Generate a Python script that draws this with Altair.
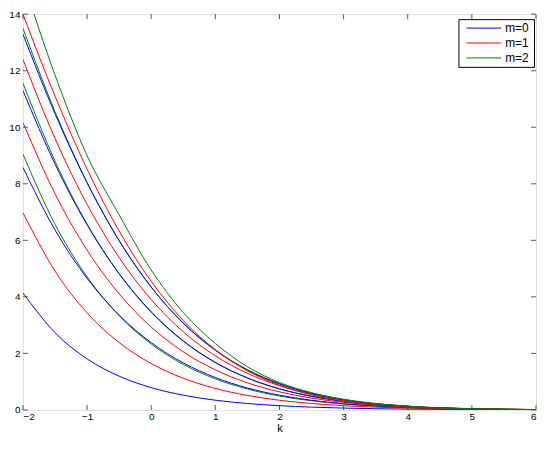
import altair as alt
import pandas as pd

k_vals = [-2, -1.5, -1, -0.5, 0, 0.5, 1, 1.5, 2, 2.5, 3, 4, 5, 6]

# m = 0 (blue)
b1 = [4.14, 2.735, 1.807, 1.194, 0.789, 0.521, 0.344, 0.228, 0.150, 0.099, 0.066, 0.029, 0.013, 0.006]
b2 = [8.58, 6.369, 4.657, 3.355, 2.381, 1.665, 1.146, 0.777, 0.520, 0.342, 0.222, 0.089, 0.034, 0.012]
b3 = [11.3, 8.701, 6.553, 4.824, 3.473, 2.444, 1.682, 1.131, 0.744, 0.479, 0.301, 0.111, 0.038, 0.012]
b4 = [13.3, 10.48, 8.035, 5.993, 4.348, 3.069, 2.108, 1.408, 0.915, 0.579, 0.356, 0.124, 0.039, 0.011]
# m = 1 (red)
r1 = [6.98, 4.915, 3.436, 2.383, 1.640, 1.121, 0.760, 0.512, 0.342, 0.227, 0.149, 0.063, 0.026, 0.010]
r2 = [10.17, 7.650, 5.655, 4.107, 2.931, 2.055, 1.417, 0.959, 0.639, 0.418, 0.268, 0.105, 0.038, 0.013]
r3 = [12.4, 9.606, 7.276, 5.389, 3.904, 2.763, 1.913, 1.296, 0.857, 0.554, 0.351, 0.131, 0.045, 0.014]
r4 = [14.0, 11.10, 8.520, 6.328, 4.547, 3.164, 2.129, 1.387, 0.874, 0.533, 0.315, 0.099, 0.028, 0.007]
# m = 2 (green)
g1 = [9.05, 6.569, 4.711, 3.335, 2.332, 1.610, 1.099, 0.739, 0.492, 0.323, 0.210, 0.085, 0.033, 0.012]
g2 = [11.56, 8.807, 6.576, 4.814, 3.454, 2.429, 1.675, 1.132, 0.749, 0.487, 0.310, 0.118, 0.042, 0.014]
g3 = [13.5, 10.556, 8.050, 5.987, 4.343, 3.073, 2.121, 1.427, 0.937, 0.600, 0.374, 0.135, 0.044, 0.013]
g4 = [15.2, 11.85, 9.00, 6.90, 4.95, 3.45, 2.35, 1.53, 0.970, 0.610, 0.370, 0.127, 0.040, 0.011]

series_labels = ["m=0", "m=1", "m=2"]
series_colors = ["#0000ff", "#ff0000", "#008000"]
x_ticks = [-2, -1, 0, 1, 2, 3, 4, 5, 6]
y_ticks = [0, 2, 4, 6, 8, 10, 12, 14]

curves = [
    ("b1", "m=0", b1), ("r1", "m=1", r1), ("g1", "m=2", g1),
    ("b2", "m=0", b2), ("r2", "m=1", r2), ("g2", "m=2", g2),
    ("b3", "m=0", b3), ("r3", "m=1", r3), ("g3", "m=2", g3),
    ("b4", "m=0", b4), ("r4", "m=1", r4), ("g4", "m=2", g4),
]
rows = []
for cid, m, vals in curves:
    for k, v in zip(k_vals, vals):
        rows.append({"curve": cid, "m": m, "k": k, "v": v})
df = pd.DataFrame(rows)

W, H = 516, 398
FONT = "Liberation Sans"

xscale = alt.Scale(domain=[-2, 6], nice=False, zero=False)
yscale = alt.Scale(domain=[0, 14], nice=False, zero=False)

lines = alt.Chart(df).mark_line(strokeWidth=1, clip=True, interpolate="monotone").encode(
    x=alt.X("k:Q", scale=xscale,
            axis=alt.Axis(values=x_ticks, ticks=False, domain=False, grid=False,
                          labelPadding=2, titlePadding=1, format="d",
                          title="k", titleFontWeight="normal")),
    y=alt.Y("v:Q", scale=yscale, title=None,
            axis=alt.Axis(values=y_ticks, ticks=False, domain=False, grid=False,
                          labelPadding=3, format="d")),
    color=alt.Color("m:N", scale=alt.Scale(domain=series_labels, range=series_colors),
                    legend=None),
    detail="curve:N",
)

xt = pd.DataFrame({"k": x_ticks})
yt = pd.DataFrame({"v": y_ticks})
tick_col = "#555555"
xb = alt.Chart(xt).mark_rule(color=tick_col, strokeWidth=1).encode(
    x=alt.X("k:Q", scale=xscale), y=alt.value(H), y2=alt.value(H - 5))
xtop = alt.Chart(xt).mark_rule(color=tick_col, strokeWidth=1).encode(
    x=alt.X("k:Q", scale=xscale), y=alt.value(0), y2=alt.value(5))
yl = alt.Chart(yt).mark_rule(color=tick_col, strokeWidth=1).encode(
    y=alt.Y("v:Q", scale=yscale), x=alt.value(0), x2=alt.value(5))
yr = alt.Chart(yt).mark_rule(color=tick_col, strokeWidth=1).encode(
    y=alt.Y("v:Q", scale=yscale), x=alt.value(W), x2=alt.value(W - 5))

# legend box drawn by hand (MATLAB style)
leg_df = pd.DataFrame({"one": [1]})
legend_parts = [
    alt.Chart(leg_df).mark_rect(fill="white", stroke="black", strokeWidth=1).encode(
        x=alt.value(W - 77.5), x2=alt.value(W - 1.5), y=alt.value(5.5), y2=alt.value(53.5))
]
for i, (lab, col) in enumerate(zip(series_labels, series_colors)):
    yy = 14 + 15 * i
    legend_parts.append(
        alt.Chart(leg_df).mark_rule(color=col, strokeWidth=1).encode(
            x=alt.value(W - 70), x2=alt.value(W - 35), y=alt.value(yy)))
    legend_parts.append(
        alt.Chart(leg_df).mark_text(text=lab, align="left", baseline="middle",
                                    font=FONT, fontSize=12, color="black").encode(
            x=alt.value(W - 31), y=alt.value(yy)))

chart = alt.layer(xb, xtop, yl, yr, lines, *legend_parts).properties(
    width=W, height=H, padding=0
).configure_view(
    stroke="black", strokeWidth=1
).configure_axis(
    labelFont=FONT, labelFontSize=11, labelColor="black",
    titleFont=FONT, titleFontSize=11, titleFontWeight="normal", titleColor="black"
).configure(background="white")

chart.save("out.html", embed_options={"renderer": "svg", "actions": False})
